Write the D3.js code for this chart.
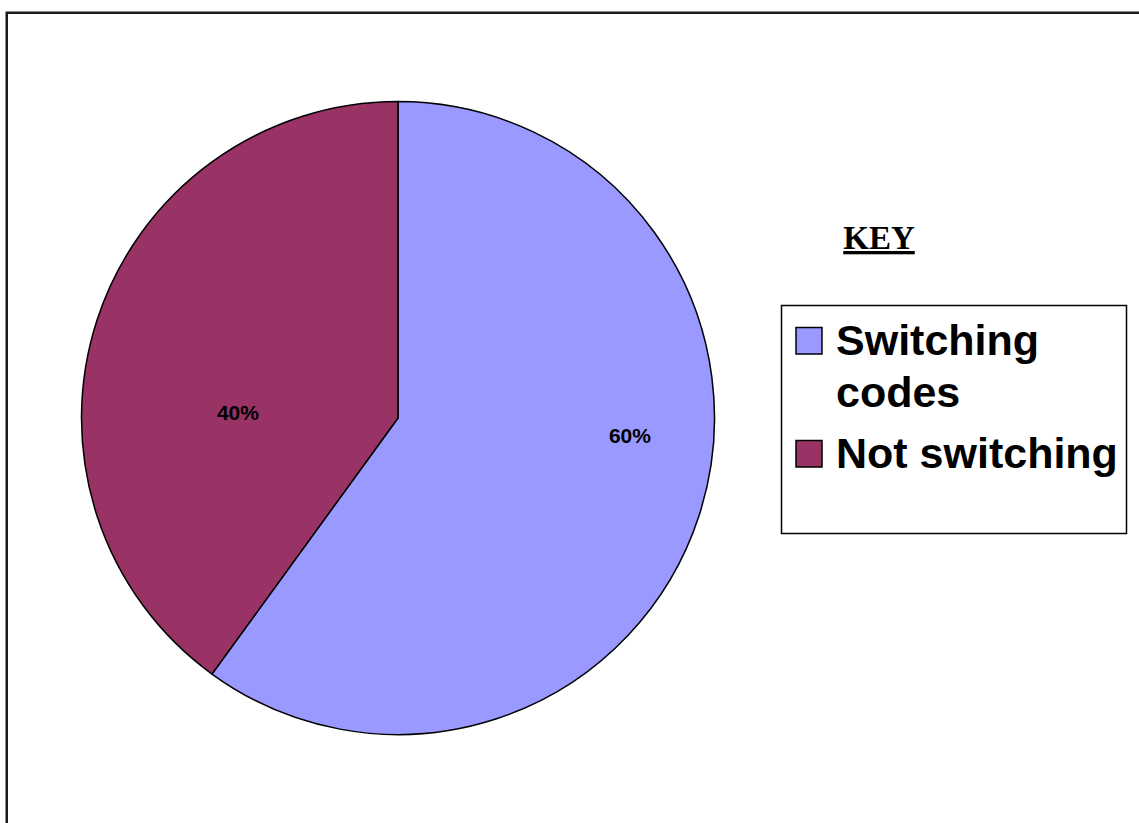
<!DOCTYPE html>
<html>
<head>
<meta charset="utf-8">
<script src="https://cdn.jsdelivr.net/npm/d3@7"></script>
<style>
html,body{margin:0;padding:0;background:#fff;}
svg{display:block;}
</style>
</head>
<body>
<script>
const categories = ["Switching codes", "Not switching"];
const values = [60, 40];
const labels = ["60%", "40%"];
const legendLines = [["Switching", "codes"], ["Not switching"]];
const colors = ["#9999FF", "#993366"];
const keyTitle = "KEY";

const W = 1139, H = 823;
const svg = d3.select("body").append("svg").attr("width", W).attr("height", H);

// outer frame (extends beyond the viewport on right and bottom)
svg.append("rect").attr("x", 6.75).attr("y", 12.75).attr("width", 1200).attr("height", 900)
  .attr("fill", "#fff").attr("stroke", "#1a1a1a").attr("stroke-width", 2.5);

const cx = 398, cy = 418, r = 316.5;
const pie = d3.pie().sort(null).value(d => d)(values);
const arc = d3.arc().innerRadius(0).outerRadius(r);
const g = svg.append("g").attr("transform", `translate(${cx},${cy})`);
g.selectAll("path").data(pie).join("path")
  .attr("d", arc).attr("fill", (d, i) => colors[i])
  .attr("stroke", "#000").attr("stroke-width", 1.5).attr("stroke-linejoin", "round");

// label placement (radius fraction and angle offset used by the original layout)
const labelRadius = [0.735, 0.506];
const labelAngleShift = [-0.237, -0.28];
g.selectAll("text.lbl").data(pie).join("text").attr("class", "lbl")
  .attr("x", (d, i) => { const a = (d.startAngle + d.endAngle) / 2 + labelAngleShift[i]; return Math.sin(a) * r * labelRadius[i]; })
  .attr("y", (d, i) => { const a = (d.startAngle + d.endAngle) / 2 + labelAngleShift[i]; return -Math.cos(a) * r * labelRadius[i]; })
  .attr("text-anchor", "middle").attr("dy", "0.35em")
  .attr("font-family", "Liberation Sans, Arial, sans-serif").attr("font-weight", "bold")
  .attr("font-size", 21).attr("fill", "#000")
  .text((d, i) => labels[i]);

// KEY title
svg.append("text").attr("x", 879).attr("y", 249)
  .attr("text-anchor", "middle")
  .attr("font-family", "Liberation Serif, Times New Roman, serif").attr("font-weight", "bold")
  .attr("font-size", 33).attr("text-decoration", "underline")
  .text(keyTitle);

// legend box
const lx = 781.5, ly = 305.5, lw = 345, lh = 228;
svg.append("rect").attr("x", lx).attr("y", ly).attr("width", lw).attr("height", lh)
  .attr("fill", "#fff").attr("stroke", "#000").attr("stroke-width", 1.5);

const itemBaseline = [355, 468];
const lineGap = 52;
const lg = svg.append("g");
categories.forEach((c, i) => {
  lg.append("rect").attr("x", 796).attr("y", itemBaseline[i] - 27.5).attr("width", 26).attr("height", 26.5)
    .attr("fill", colors[i]).attr("stroke", "#000").attr("stroke-width", 1.5);
  legendLines[i].forEach((t, j) => {
    lg.append("text").attr("x", 836).attr("y", itemBaseline[i] + j * lineGap)
      .attr("font-family", "Liberation Sans, Arial, sans-serif").attr("font-weight", "bold")
      .attr("font-size", 43).attr("fill", "#000")
      .text(t);
  });
});
</script>
</body>
</html>
